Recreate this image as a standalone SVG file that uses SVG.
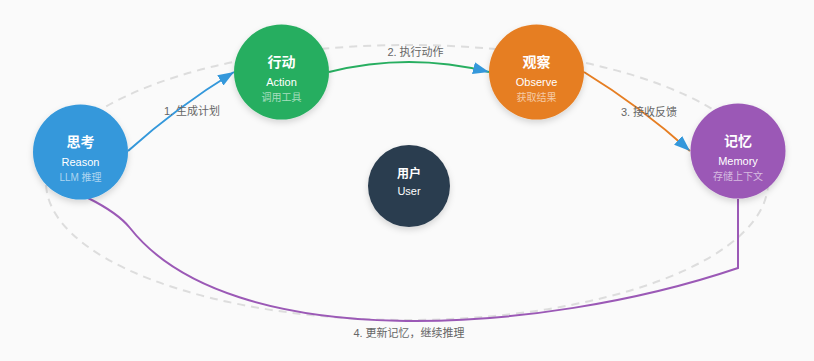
<svg xmlns="http://www.w3.org/2000/svg" width="814" height="361" viewBox="0 0 814 361">
<style>
.t{font-family:"Liberation Sans","Noto Sans CJK SC",sans-serif;fill:#fff;text-anchor:middle}
.title{font-size:14px;font-weight:bold}
.en{font-size:11px}
.sub{font-size:10px;fill-opacity:0.6}
.lbl{font-family:"Liberation Sans","Noto Sans CJK SC",sans-serif;font-size:11px;fill:#666;text-anchor:middle}
.edge{fill:none;stroke-width:2}
</style>
<defs>
<marker id="arr" markerWidth="8" markerHeight="6" refX="8" refY="3" orient="auto">
<path d="M0,0 L8,3 L0,6 z" fill="#3498db"/>
</marker>
<filter id="sh" x="-30%" y="-30%" width="160%" height="170%">
<feDropShadow dx="0" dy="3" stdDeviation="3" flood-color="#000" flood-opacity="0.15"/>
</filter>
</defs>
<rect width="814" height="361" fill="#fafafa"/>
<ellipse cx="407" cy="182.5" rx="361" ry="137.5" fill="none" stroke="#dddddd" stroke-width="2" stroke-dasharray="8 6"/>
<g id="connectors">
<path class="edge" d="M128 151 Q177 107 234 72" stroke="#3498db" marker-end="url(#arr)"/>
<path class="edge" d="M329 72 Q409 52 489 72" stroke="#27ae60" marker-end="url(#arr)"/>
<path class="edge" d="M584 72 Q640.6 106.7 690 151" stroke="#e67e22" marker-end="url(#arr)"/>
<path class="edge" d="M738 199 V268 C540 335 230 355 130 228 Q118 213 88 198" stroke="#9b59b6"/>
<text class="lbl" x="192" y="115">1. 生成计划</text>
<text class="lbl" x="415.5" y="56">2. 执行动作</text>
<text class="lbl" x="649" y="115.5">3. 接收反馈</text>
<text class="lbl" x="409" y="337">4. 更新记忆，继续推理</text>
</g>
<g id="reason">
<circle cx="80.5" cy="152" r="47.5" fill="#3498db" filter="url(#sh)"/>
<text class="t title" x="80.5" y="147">思考</text>
<text class="t en" x="80.5" y="165.5">Reason</text>
<text class="t sub" x="80.5" y="181">LLM 推理</text>
</g>
<g id="action">
<circle cx="281.5" cy="72" r="47.5" fill="#27ae60" filter="url(#sh)"/>
<text class="t title" x="281.5" y="67">行动</text>
<text class="t en" x="281.5" y="85.5">Action</text>
<text class="t sub" x="281.5" y="101">调用工具</text>
</g>
<g id="observe">
<circle cx="536.5" cy="72" r="47.5" fill="#e67e22" filter="url(#sh)"/>
<text class="t title" x="536.5" y="67">观察</text>
<text class="t en" x="536.5" y="85.5">Observe</text>
<text class="t sub" x="536.5" y="101">获取结果</text>
</g>
<g id="memory">
<circle cx="738" cy="151" r="47.5" fill="#9b59b6" filter="url(#sh)"/>
<text class="t title" x="738" y="146">记忆</text>
<text class="t en" x="738" y="164.5">Memory</text>
<text class="t sub" x="738" y="180">存储上下文</text>
</g>
<g id="user">
<circle cx="409" cy="186" r="41" fill="#2c3e50" filter="url(#sh)"/>
<text class="t title" x="409" y="178" style="font-size:12px">用户</text>
<text class="t en" x="409" y="194.5">User</text>
</g>
</svg>
